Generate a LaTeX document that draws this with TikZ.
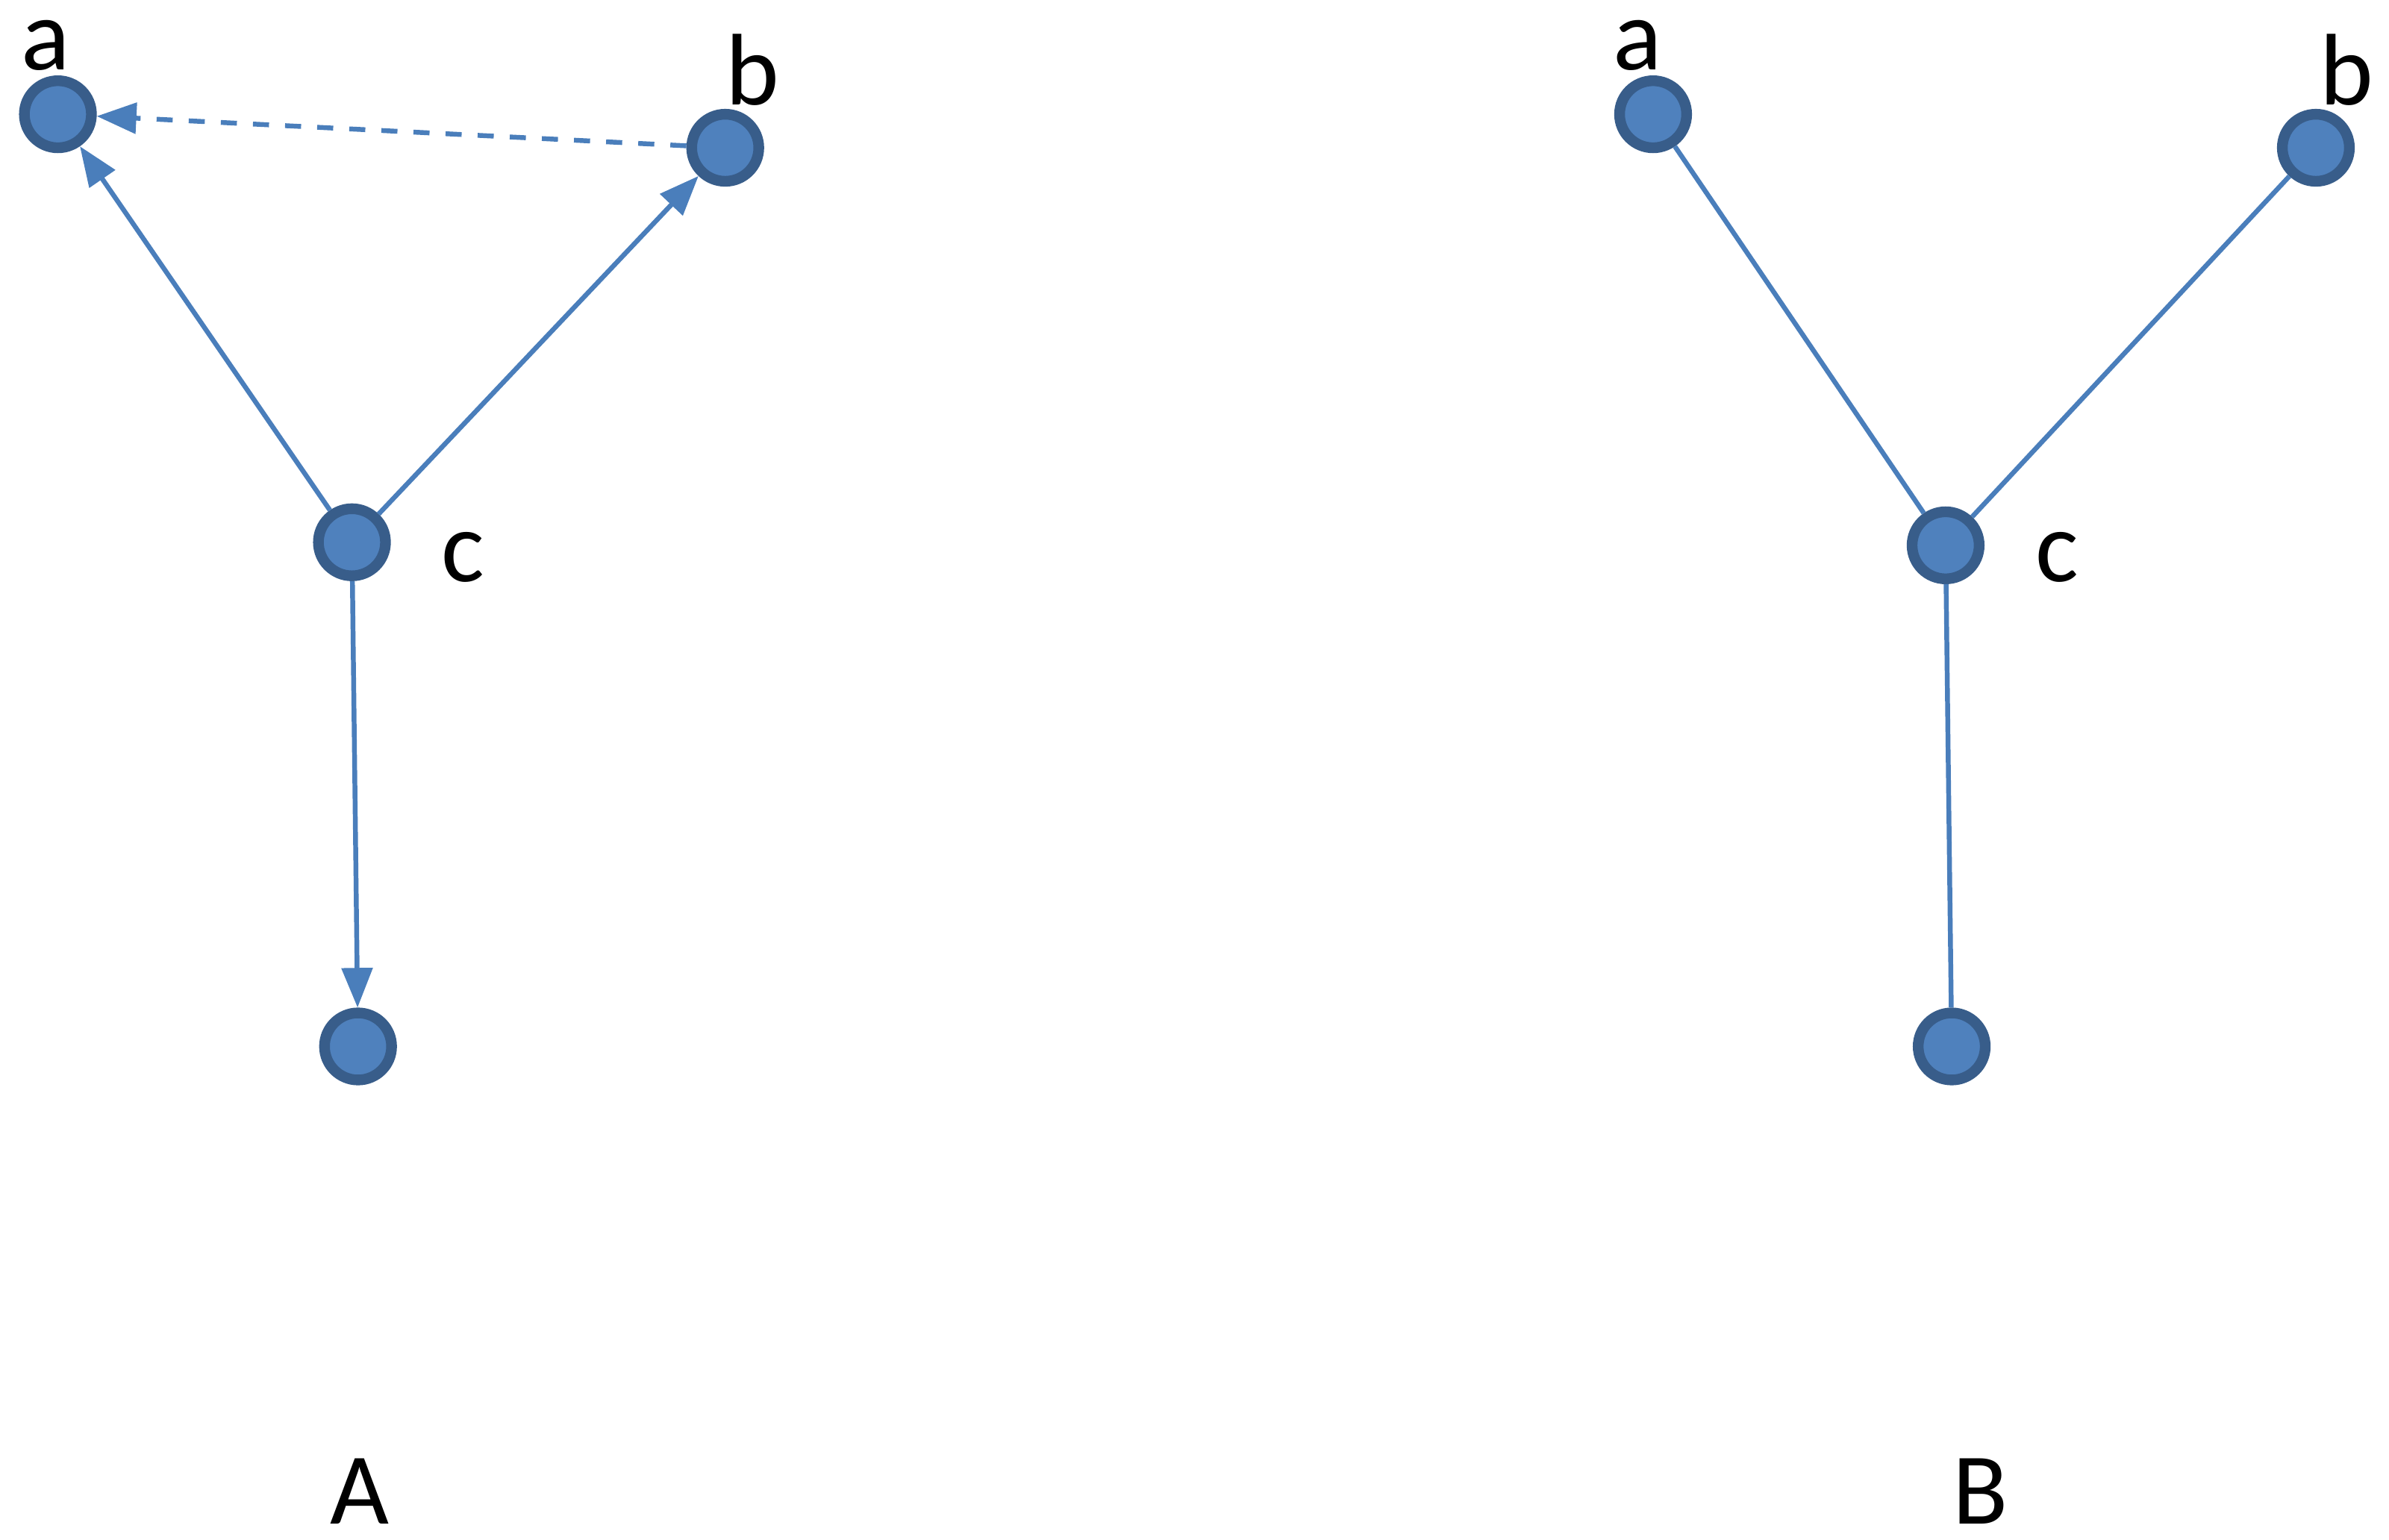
\documentclass[tikz,border=0pt]{standalone}
\usepackage{fontspec}
\setmainfont{Carlito}
\usetikzlibrary{arrows.meta}
\definecolor{nfill}{HTML}{4F81BD}
\definecolor{nedge}{HTML}{385D8A}
\definecolor{ledge}{HTML}{4A7EBB}
\begin{document}
\begin{tikzpicture}[x=0.01cm,y=-0.01cm,
  vert/.style={circle,fill=nfill,draw=nedge,line width=2pt,minimum size=0.44cm,inner sep=0pt},
  lbl/.style={font=\fontsize{19}{22}\selectfont,inner sep=0pt},
  con/.style={draw=ledge,line width=0.9pt},
  arr/.style={con,-{Triangle[length=0.26cm,width=0.2cm]}}]
\useasboundingbox (0,0) rectangle (1568,1011);
\node[vert] (a1) at (38,75) {};
\node[vert] (b1) at (476,97) {};
\node[vert] (c1) at (231,356) {};
\node[vert] (d1) at (235,687) {};
\node[lbl] (la1) at (30,30) {a};
\node[lbl] (lb1) at (494,46) {b};
\node[lbl] (lc1) at (304,366) {c};
\node[lbl] (lA) at (236,979) {A};
\draw[arr] (c1) -- (a1);
\draw[arr] (c1) -- (b1);
\draw[arr] (c1) -- (d1);
\draw[arr,dashed] (b1) -- (a1);
\node[vert] (a2) at (1085,75) {};
\node[vert] (b2) at (1520,97) {};
\node[vert] (c2) at (1277,358) {};
\node[vert] (d2) at (1281,687) {};
\node[lbl] (la2) at (1075,30) {a};
\node[lbl] (lb2) at (1540,46) {b};
\node[lbl] (lc2) at (1350,366) {c};
\node[lbl] (lB) at (1300,979) {B};
\draw[con] (c2) -- (a2);
\draw[con] (c2) -- (b2);
\draw[con] (c2) -- (d2);
\end{tikzpicture}
\end{document}
